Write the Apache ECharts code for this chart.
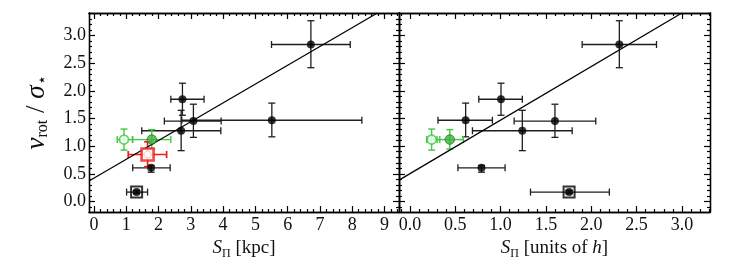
<!DOCTYPE html>
<html><head><meta charset="utf-8">
<script src="https://cdn.jsdelivr.net/npm/echarts@6/dist/echarts.min.js"></script>
<style>html,body{margin:0;padding:0;background:#fff}#c{width:747px;height:269px}</style>
</head><body><div id="c"></div>
<script>
// ---------- data ----------
// Left panel: S_Pi in kpc
const leftX    = [6.72, 2.74, 3.08, 2.70, 5.51, 1.77, 1.32];
const leftY    = [2.84, 1.85, 1.455, 1.28, 1.47, 0.61, 0.17];
const leftXLo  = [5.50, 2.38, 2.18, 1.48, 2.72, 1.20, 1.01];
const leftXHi  = [7.94, 3.41, 3.94, 3.93, 8.30, 2.36, 1.66];
const leftYLo  = [2.42, 1.56, 1.16, 0.92, 1.17, 0.53, 0.14];
const leftYHi  = [3.27, 2.14, 1.76, 1.65, 1.78, 0.65, 0.20];
const leftSquareIdx = 6;
// green (filled, open) and red points, left panel
const leftGreenX   = [1.79, 0.93];
const leftGreenY   = [1.12, 1.12];
const leftGreenXLo = [1.20, 0.72];
const leftGreenXHi = [2.38, 1.19];
const leftGreenYLo = [0.95, 0.93];
const leftGreenYHi = [1.30, 1.31];
const leftRedX   = [1.66];
const leftRedY   = [0.85];
const leftRedXLo = [1.06];
const leftRedXHi = [2.25];
const leftRedYLo = [0.63];
const leftRedYHi = [1.08];
// fit line end points
const leftFitX = [-0.155, 8.78];
const leftFitY = [0.37, 3.41];

// Right panel: S_Pi in units of h
const rightX    = [2.31, 1.005, 0.615, 1.24, 1.60, 0.79, 1.756];
const rightY    = [2.84, 1.85, 1.47, 1.28, 1.455, 0.61, 0.17];
const rightXLo  = [1.90, 0.76, 0.31, 0.69, 1.15, 0.53, 1.33];
const rightXHi  = [2.72, 1.24, 0.91, 1.79, 2.05, 1.05, 2.20];
const rightYLo  = [2.42, 1.56, 1.17, 0.92, 1.16, 0.53, 0.14];
const rightYHi  = [3.27, 2.14, 1.78, 1.65, 1.76, 0.65, 0.20];
const rightSquareIdx = 6;
const rightGreenX   = [0.44, 0.24];
const rightGreenY   = [1.12, 1.12];
const rightGreenXLo = [0.30, 0.185];
const rightGreenXHi = [0.59, 0.33];
const rightGreenYLo = [0.95, 0.93];
const rightGreenYHi = [1.30, 1.31];
const rightFitX = [-0.12, 3.0];
const rightFitY = [0.386, 3.41];

// tick labels
const leftXTicks  = [0, 1, 2, 3, 4, 5, 6, 7, 8, 9];
const rightXTicks = [0.0, 0.5, 1.0, 1.5, 2.0, 2.5, 3.0];
const yTicks      = [0.0, 0.5, 1.0, 1.5, 2.0, 2.5, 3.0];

// axis extents
const leftXRange  = [-0.155, 9.45];
const rightXRange = [-0.12, 3.31];
const yRange      = [-0.19, 3.41];
// ---------------------------------------------------

function minors(majors, range) {
  const step = (majors[1] - majors[0]) / 5;
  const out = [];
  const start = Math.ceil(range[0] / step - 1e-9);
  const end = Math.floor(range[1] / step + 1e-9);
  for (let i = start; i <= end; i++) {
    const v = +(i * step).toFixed(6);
    if (!majors.some(m => Math.abs(m - v) < 1e-6)) out.push(v);
  }
  return out;
}

const FONT = 'Liberation Serif';
const TXT = '#111';

function mkAxis(kind, grid, pos, range, vals, opts) {
  const o = {
    type: 'value', gridIndex: grid, position: pos,
    min: range[0], max: range[1],
    axisLine: {show: true, onZero: false, lineStyle: {color: '#000', width: 1.3}},
    splitLine: {show: false},
    axisTick: {show: true, inside: true, length: opts.len, customValues: vals,
               lineStyle: {color: '#000', width: 1.2}},
    axisLabel: {show: false},
    z: 10
  };
  if (opts.labels) {
    o.axisLabel = {show: true, customValues: vals, fontFamily: FONT, fontSize: 18, color: TXT,
                   margin: opts.margin, formatter: opts.fmt};
  }
  if (opts.name) Object.assign(o, opts.name);
  return o;
}

const fmt0 = v => String(Math.round(v));
const fmt1 = v => (Math.round(v * 10) / 10).toFixed(1);

const xNameRich = {
  s: {fontFamily: FONT, fontStyle: 'italic', fontSize: 19, color: TXT, lineHeight: 22, verticalAlign: 'middle'},
  sub: {fontFamily: FONT, fontSize: 12, color: TXT, lineHeight: 22, verticalAlign: 'bottom'},
  n: {fontFamily: FONT, fontSize: 19, color: TXT, lineHeight: 22, verticalAlign: 'middle'}
};
const yNameRich = {
  s: {fontFamily: FONT, fontStyle: 'italic', fontSize: 27, color: TXT, lineHeight: 28, verticalAlign: 'middle'},
  sub: {fontFamily: FONT, fontSize: 16, color: TXT, lineHeight: 28, verticalAlign: 'bottom'},
  n: {fontFamily: FONT, fontSize: 27, color: TXT, lineHeight: 28, verticalAlign: 'middle'}
};

const xAxes = [], yAxes = [];
[[0, leftXRange, leftXTicks, fmt0, '{s|S}{sub|Π}{n| [kpc]}'],
 [1, rightXRange, rightXTicks, fmt1, '{s|S}{sub|Π}{n| [units of }{s|h}{n|]}']].forEach(([g, r, t, f, nm]) => {
  xAxes.push(mkAxis('x', g, 'bottom', r, t, {len: 6, labels: true, margin: 4, fmt: f,
    name: {name: nm, nameLocation: 'middle', nameGap: 18, nameTextStyle: {rich: xNameRich, padding: 0}}}));
  xAxes.push(mkAxis('x', g, 'bottom', r, minors(t, r), {len: 3}));
  xAxes.push(mkAxis('x', g, 'top', r, t, {len: 6}));
  xAxes.push(mkAxis('x', g, 'top', r, minors(t, r), {len: 3}));
});
[0, 1].forEach(g => {
  const lab = g === 0;
  yAxes.push(mkAxis('y', g, 'left', yRange, yTicks, {len: 6, labels: lab, margin: 3, fmt: fmt1,
    name: lab ? {name: '{s|v}{sub|rot}{n| / }{s|σ}{sub|⋆}', nameLocation: 'middle', nameGap: 38, nameRotate: 90,
                 nameTextStyle: {rich: yNameRich}} : null}));
  yAxes.push(mkAxis('y', g, 'left', yRange, minors(yTicks, yRange), {len: 3}));
  yAxes.push(mkAxis('y', g, 'right', yRange, yTicks, {len: 6}));
  yAxes.push(mkAxis('y', g, 'right', yRange, minors(yTicks, yRange), {len: 3}));
});

function errData(x, y, xl, xh, yl, yh) {
  return x.map((v, i) => [v, y[i], xl[i], xh[i], yl[i], yh[i]]);
}
function errSeries(data, ax, color, width) {
  return {
    type: 'custom', xAxisIndex: ax, yAxisIndex: ax, z: 2, clip: true,
    encode: {x: [0, 2, 3], y: [1, 4, 5]},
    data: data,
    renderItem: function (params, api) {
      const c = api.coord([api.value(0), api.value(1)]);
      const xl = api.coord([api.value(2), api.value(1)]);
      const xh = api.coord([api.value(3), api.value(1)]);
      const yl = api.coord([api.value(0), api.value(4)]);
      const yh = api.coord([api.value(0), api.value(5)]);
      const cap = 3.5;
      const st = {stroke: color, lineWidth: width, fill: null};
      const L = (x1, y1, x2, y2) => ({type: 'line', shape: {x1, y1, x2, y2}, style: st});
      return {type: 'group', children: [
        L(xl[0], c[1], xh[0], c[1]),
        L(xl[0], c[1] - cap, xl[0], c[1] + cap),
        L(xh[0], c[1] - cap, xh[0], c[1] + cap),
        L(c[0], yl[1], c[0], yh[1]),
        L(c[0] - cap, yl[1], c[0] + cap, yl[1]),
        L(c[0] - cap, yh[1], c[0] + cap, yh[1])
      ]};
    }
  };
}
function pts(x, y) { return x.map((v, i) => [v, y[i]]); }

const GREEN = '#3ec93e', GREEN_FILL = '#3cb43c', RED = '#ee1c1c';

function panelSeries(ax, X, Y, XL, XH, YL, YH, sq, GX, GY, GXL, GXH, GYL, GYH, fitX, fitY, red) {
  const s = [];
  s.push(errSeries(errData(X, Y, XL, XH, YL, YH), ax, '#1e1e1e', 1.3));
  s.push(errSeries(errData(GX, GY, GXL, GXH, GYL, GYH), ax, GREEN, 1.4));
  if (red) s.push(errSeries(errData(red.x, red.y, red.xl, red.xh, red.yl, red.yh), ax, RED, 1.7));
  s.push({type: 'line', xAxisIndex: ax, yAxisIndex: ax, data: pts(fitX, fitY), showSymbol: false, clip: true,
          lineStyle: {color: '#000', width: 1.3}, z: 3, silent: true});
  s.push({type: 'scatter', xAxisIndex: ax, yAxisIndex: ax, data: [[X[sq], Y[sq]]], symbol: 'rect', symbolSize: 11,
          itemStyle: {color: 'rgba(0,0,0,0)', borderColor: '#000', borderWidth: 2}, z: 4});
  s.push({type: 'scatter', xAxisIndex: ax, yAxisIndex: ax, data: pts(X, Y), symbol: 'circle', symbolSize: 8,
          itemStyle: {color: '#000'}, z: 5});
  s.push({type: 'scatter', xAxisIndex: ax, yAxisIndex: ax, data: [[GX[0], GY[0]]], symbol: 'circle', symbolSize: 9.5,
          itemStyle: {color: GREEN_FILL, borderColor: '#1a5a1a', borderWidth: 0.8}, z: 5});
  s.push({type: 'scatter', xAxisIndex: ax, yAxisIndex: ax, data: [[GX[1], GY[1]]], symbol: 'circle', symbolSize: 9,
          itemStyle: {color: '#fff', borderColor: GREEN, borderWidth: 1.6}, z: 5});
  if (red) {
    s.push({type: 'scatter', xAxisIndex: ax, yAxisIndex: ax, data: pts(red.x, red.y), symbol: 'rect', symbolSize: 12,
            itemStyle: {color: '#fff', borderColor: RED, borderWidth: 2.6}, z: 5});
    s.push({type: 'scatter', xAxisIndex: ax, yAxisIndex: ax, data: pts(red.x, red.y), symbol: 'circle', symbolSize: 7,
            itemStyle: {color: '#fff', borderColor: '#f2b0b0', borderWidth: 0.8}, z: 6});
  }
  return s;
}

const series = [].concat(
  panelSeries(0, leftX, leftY, leftXLo, leftXHi, leftYLo, leftYHi, leftSquareIdx,
              leftGreenX, leftGreenY, leftGreenXLo, leftGreenXHi, leftGreenYLo, leftGreenYHi,
              leftFitX, leftFitY,
              {x: leftRedX, y: leftRedY, xl: leftRedXLo, xh: leftRedXHi, yl: leftRedYLo, yh: leftRedYHi}),
  panelSeries(4, rightX, rightY, rightXLo, rightXHi, rightYLo, rightYHi, rightSquareIdx,
              rightGreenX, rightGreenY, rightGreenXLo, rightGreenXHi, rightGreenYLo, rightGreenYHi,
              rightFitX, rightFitY, null)
);

const chart = echarts.init(document.getElementById('c'), null, {renderer: 'canvas'});
chart.setOption({
  animation: false,
  backgroundColor: '#fff',
  grid: [
    {left: 89, top: 13, width: 310, height: 199},
    {left: 399, top: 13, width: 311, height: 199}
  ],
  xAxis: xAxes,
  yAxis: yAxes,
  series: series
});
</script>
</body></html>
